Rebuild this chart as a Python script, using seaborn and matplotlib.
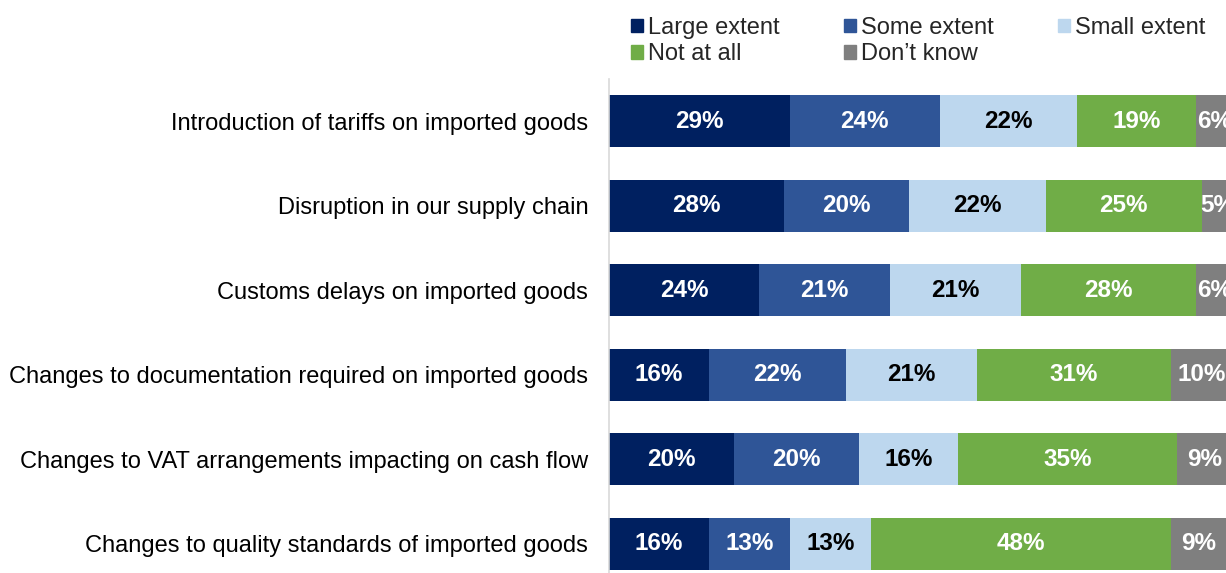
import matplotlib
matplotlib.use("Agg")
import matplotlib.pyplot as plt
import matplotlib.patches as mpatches
import numpy as np
import pandas as pd
import seaborn as sns

categories = [
    "Introduction of tariffs on imported goods",
    "Disruption in our supply chain",
    "Customs delays on imported goods",
    "Changes to documentation required on imported goods",
    "Changes to VAT arrangements impacting on cash flow",
    "Changes to quality standards of imported goods",
]
series_names = ["Large extent", "Some extent", "Small extent", "Not at all", "Don\u2019t know"]
large_extent = [29, 28, 24, 16, 20, 16]
some_extent = [24, 20, 21, 22, 20, 13]
small_extent = [22, 22, 21, 21, 16, 13]
not_at_all = [19, 25, 28, 31, 35, 48]
dont_know = [6, 5, 6, 10, 9, 9]

series_values = [large_extent, some_extent, small_extent, not_at_all, dont_know]
colors = ["#002060", "#2F5597", "#BDD7EE", "#70AD47", "#7F7F7F"]
label_colors = ["white", "white", "black", "white", "white"]

sns.set_theme(style="white")
plt.rcParams["font.family"] = ["Liberation Sans", "DejaVu Sans"]

fig = plt.figure(figsize=(12.26, 5.73), dpi=100)
# axes area; the plot runs a little past the right and bottom edges
ax = fig.add_axes([609 / 1226, -13 / 573, 624 / 1226, 507 / 573])

values = np.array(series_values, dtype=float)
cum = np.cumsum(values, axis=0)

# stacked bars: draw cumulative totals from the outermost segment inward
for i in range(len(series_names) - 1, -1, -1):
    df = pd.DataFrame({"category": categories, "total": cum[i]})
    sns.barplot(data=df, x="total", y="category", orient="h", color=colors[i],
                saturation=1, width=0.62, ax=ax, edgecolor="none", linewidth=0)

# value labels centred in each segment
for i in range(len(series_names)):
    starts = cum[i] - values[i]
    for j, v in enumerate(values[i]):
        ax.text(starts[j] + v / 2, j, f"{int(v)}%", ha="center", va="center",
                color=label_colors[i], fontsize=17.5, fontweight="bold")

ax.set_xlim(0, 100)
ax.set_ylim(len(categories) - 0.5, -0.5)
ax.set_xlabel("")
ax.set_ylabel("")
ax.set_xticks([])
ax.tick_params(axis="y", length=0, pad=15, labelsize=17, labelcolor="black")
for side in ["top", "right", "bottom"]:
    ax.spines[side].set_visible(False)
ax.spines["left"].set_color("#D9D9D9")
ax.spines["left"].set_linewidth(1.2)

# legend laid out row by row
order = [0, 3, 1, 4, 2]
handles = [mpatches.Patch(color=colors[k], label=series_names[k]) for k in order]
fig.legend(handles=handles, ncol=3, loc="upper left",
           bbox_to_anchor=(631 / 1226, 1 - 17 / 573), frameon=False, fontsize=17,
           handlelength=0.5, handleheight=0.5, handletextpad=0.2,
           columnspacing=2.75, labelspacing=0.18, borderpad=0, borderaxespad=0)

fig.savefig("out.png", dpi=100)
